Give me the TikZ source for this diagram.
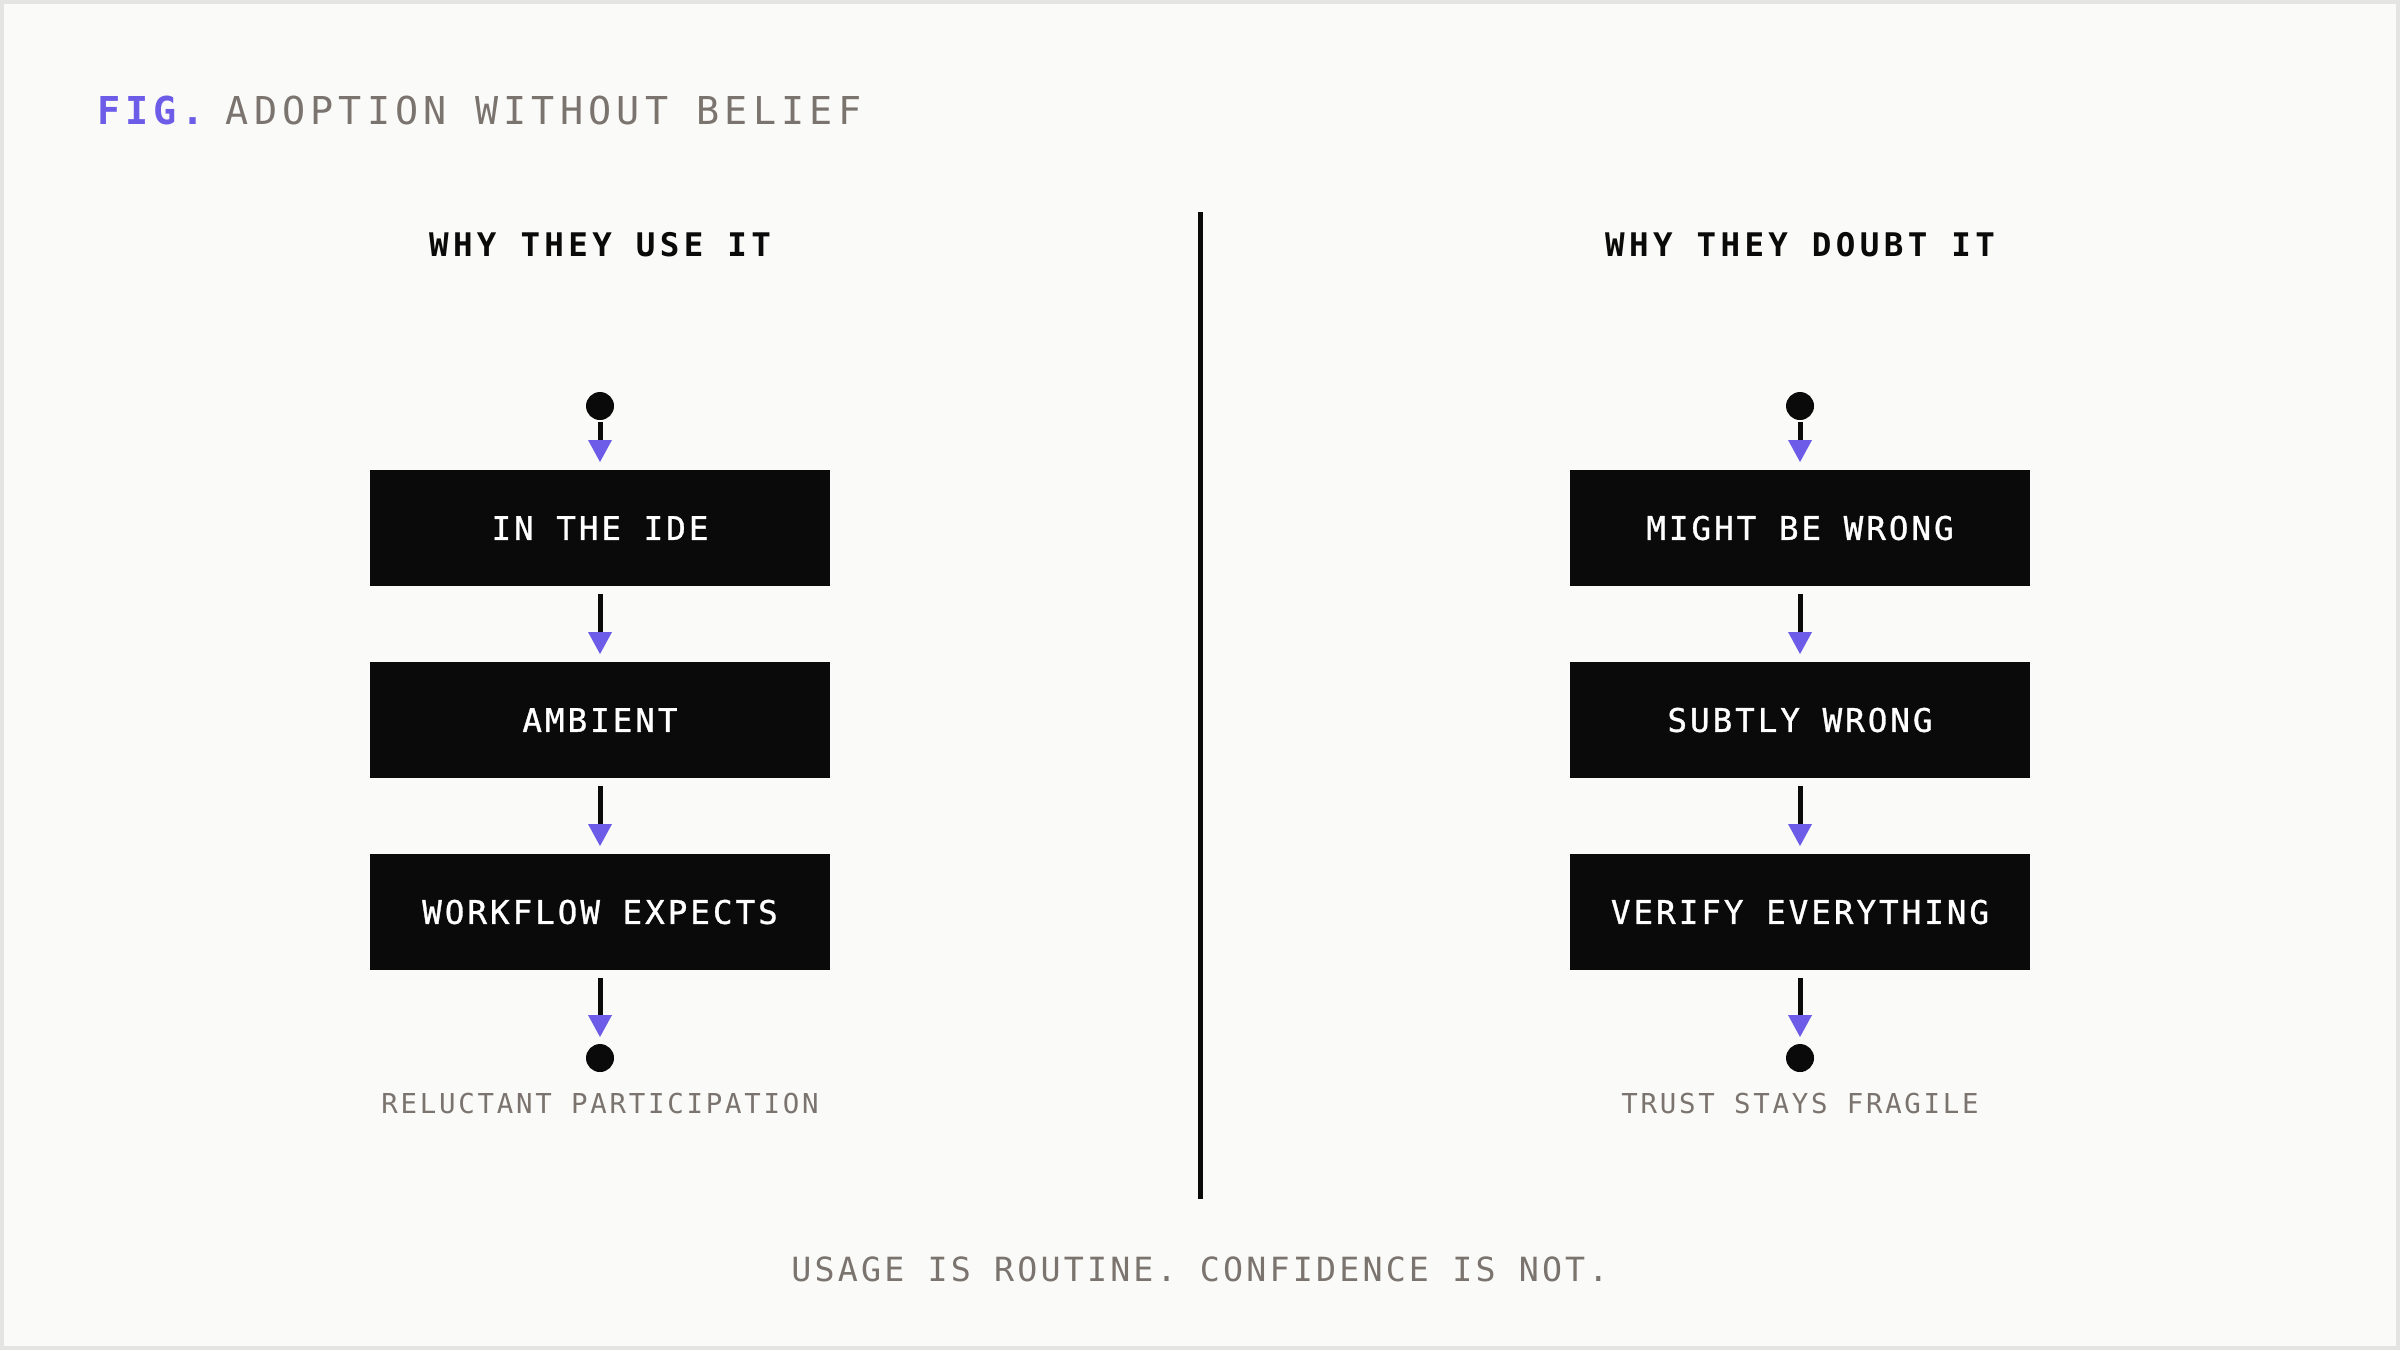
\documentclass[tikz,border=0pt]{standalone}
\usepackage{fontspec}
\usetikzlibrary{positioning,arrows.meta}
\newfontfamily\trackedmono[LetterSpace=10]{DejaVu Sans Mono}
\tikzset{
  flow style/.style={
    node distance=.76cm,
  },
  step box/.style={
    fill=ColourBase, text=white,
    minimum width=4.6cm, minimum height=1.16cm, inner sep=0pt, outer sep=0pt,
    font=\trackedmono\addfontfeature{LetterSpace=9.3,FakeBold=1}\fontsize{9.25}{11}\selectfont
  },
  flow dot/.style={
    fill=ColourBase, circle, inner sep=0pt, outer sep=0pt, minimum size=.28cm
  },
  flow arrow/.style={
    draw=ColourBase, line width=.05cm,
    -{Triangle[width=.24cm,length=.22cm,line width=0pt,color=ColourHl]},
    shorten <=.08cm, shorten >=.08cm
  },
}
\tikzset{
  column head/.style={
    anchor=base, text=ColourBase,
    font=\trackedmono\addfontfeature{LetterSpace=13.5}\bfseries\fontsize{9.25}{11}\selectfont
  },
  outcome label/.style={
    anchor=base, text=ColourMuted,
    font=\trackedmono\fontsize{7.8}{9}\selectfont
  },
  fig title/.style={
    anchor=base west, inner sep=0pt,
    font=\trackedmono\addfontfeature{LetterSpace=13.5}\fontsize{10.93}{13}\selectfont
  },
  fig mark/.style={
    fig title, text=ColourHl,
    font=\trackedmono\addfontfeature{LetterSpace=12.5}\bfseries\fontsize{10.93}{13}\selectfont
  },
}
\definecolor{InkBlack}{RGB}{10,10,10}
\definecolor{WarmGrey}{RGB}{122,115,110}
\definecolor{SoftViolet}{RGB}{108,92,231}
\definecolor{PaperWhite}{RGB}{250,250,248}
\definecolor{FrameGrey}{RGB}{228,228,226}
\colorlet{ColourBase}{InkBlack}
\colorlet{ColourMuted}{WarmGrey}
\colorlet{ColourHl}{SoftViolet}

\begin{document}
\begin{tikzpicture}[flow style]
    \useasboundingbox (0,0) rectangle (24,-13.5);
    \fill[PaperWhite] (0,0) rectangle (24,-13.5);
    \draw[FrameGrey, line width=.04cm] (.02,-.02) rectangle (23.98,-13.48);
    % title
    \node[fig mark] (fig) at (.97,-1.24) {FIG.};
    \node[fig title, text=ColourMuted] (title) at (2.25,-1.24) {ADOPTION WITHOUT BELIEF};
    % divider
    \coordinate (div top) at (12,-2.12);
    \coordinate (div bottom) at (12,-11.99);
    \draw[ColourBase, line width=.05cm] (div top) -- (div bottom);
    \begin{scope}
      \node[column head] (head) at (6,-2.56) {WHY THEY USE IT};
      \node[flow dot] (n0) at (6,-4.06) {};
      \node[step box] (n1) [below=.5cm of n0] {IN THE IDE};
      \node[step box] (n2) [below=of n1] {AMBIENT};
      \node[step box] (n3) [below=of n2] {WORKFLOW EXPECTS};
      \node[flow dot] (n4) [below=.74cm of n3] {};
      \node[outcome label] (out) [below=.41cm of n4, anchor=base] {RELUCTANT PARTICIPATION};
      \draw[flow arrow, shorten <=.02cm] (n0) -- (n1);
      \draw[flow arrow] (n1) -- (n2);
      \draw[flow arrow] (n2) -- (n3);
      \draw[flow arrow, shorten >=.07cm] (n3) -- (n4);
    \end{scope}
    \begin{scope}[xshift=12cm]
      \node[column head] (head) at (6,-2.56) {WHY THEY DOUBT IT};
      \node[flow dot] (n0) at (6,-4.06) {};
      \node[step box] (n1) [below=.5cm of n0] {MIGHT BE WRONG};
      \node[step box] (n2) [below=of n1] {SUBTLY WRONG};
      \node[step box] (n3) [below=of n2] {VERIFY EVERYTHING};
      \node[flow dot] (n4) [below=.74cm of n3] {};
      \node[outcome label] (out) [below=.41cm of n4, anchor=base] {TRUST STAYS FRAGILE};
      \draw[flow arrow, shorten <=.02cm] (n0) -- (n1);
      \draw[flow arrow] (n1) -- (n2);
      \draw[flow arrow] (n2) -- (n3);
      \draw[flow arrow, shorten >=.07cm] (n3) -- (n4);
    \end{scope}
    % closing line
    \node[anchor=base, text=ColourMuted,
      font=\trackedmono\addfontfeature{LetterSpace=9.5}\fontsize{9.48}{11}\selectfont]
      (moral) at (12,-12.81) {USAGE IS ROUTINE. CONFIDENCE IS NOT.};
\end{tikzpicture}
\end{document}
